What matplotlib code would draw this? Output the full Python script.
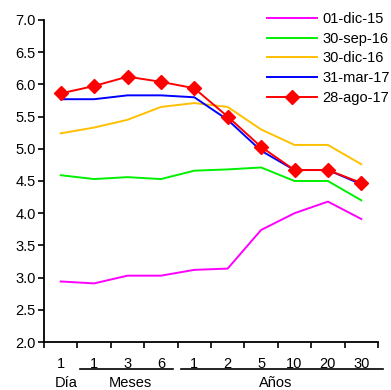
import numpy as np
import matplotlib
matplotlib.use('Agg')
import matplotlib.pyplot as plt

plt.rcParams['font.family'] = ['Liberation Sans', 'DejaVu Sans']
plt.rcParams['font.size'] = 10.5

# plazos (eje x)
plazos = ['1', '1', '3', '6', '1', '2', '5', '10', '20', '30']

# curvas de rendimiento
dic15 = [2.94, 2.91, 3.03, 3.03, 3.12, 3.14, 3.74, 4.00, 4.18, 3.91]
sep16 = [4.59, 4.53, 4.56, 4.53, 4.66, 4.68, 4.71, 4.50, 4.50, 4.20]
dic16 = [5.24, 5.33, 5.45, 5.65, 5.71, 5.65, 5.30, 5.06, 5.06, 4.76]
mar17 = [5.77, 5.77, 5.83, 5.83, 5.80, 5.45, 4.97, 4.67, 4.67, 4.45]
ago17 = [5.86, 5.975, 6.12, 6.04, 5.94, 5.50, 5.03, 4.67, 4.67, 4.47]

series = [
    ('01-dic-15', dic15, '#FF00FF'),
    ('30-sep-16', sep16, '#00F000'),
    ('30-dic-16', dic16, '#FFC000'),
    ('31-mar-17', mar17, '#0000FF'),
]

fig = plt.figure(figsize=(3.91, 3.90), dpi=100)
ax = fig.add_axes([44/391, 1-342/390, 334/391, 322/390])

x = np.arange(len(plazos))
for name, vals, col in series:
    ax.plot(x, vals, color=col, lw=1.4, label=name)
ax.plot(x, ago17, color='#FF0000', lw=1.4, marker='D', markersize=7,
        label='28-ago-17')

ax.set_ylim(2.0, 7.0)
ax.set_yticks(np.arange(2.0, 7.01, 0.5))
ax.set_yticklabels(['%.1f' % v for v in np.arange(2.0, 7.01, 0.5)])
ax.set_xlim(-0.5, 9.5)
ax.set_xticks(np.arange(-0.5, 9.6, 1.0))
ax.set_xticklabels([])
ax.tick_params(axis='both', direction='out', length=4, width=1.2, colors='black')
ax.tick_params(axis='y', pad=2)
for s in ['top', 'right']:
    ax.spines[s].set_visible(False)
for s in ['left', 'bottom']:
    ax.spines[s].set_linewidth(1.3)

# etiquetas de plazo
for i, lbl in enumerate(plazos):
    ax.annotate(lbl, xy=(i, 0), xycoords=('data', 'axes fraction'),
                xytext=(0, -15.5), textcoords='offset points',
                ha='center', va='center')

# lineas de grupo
trans = ax.get_xaxis_transform()
yl = -27/322
ax.plot([0.58, 3.36], [yl, yl], color='black', lw=1.2, transform=trans, clip_on=False)
ax.plot([3.6, 9.65], [yl, yl], color='black', lw=1.2, transform=trans, clip_on=False)

yg = -41/322
ax.text(0.15, yg, 'Día', transform=trans, ha='center', va='center')
ax.text(2.1, yg, 'Meses', transform=trans, ha='center', va='center')
ax.text(6.43, yg, 'Años', transform=trans, ha='center', va='center')

ax.legend(loc='upper right', bbox_to_anchor=(390/391, 1-12/390),
          bbox_transform=fig.transFigure, frameon=False, borderpad=0,
          borderaxespad=0, handlelength=3.4, handletextpad=0.4,
          labelspacing=0.39)

fig.savefig('out.png', dpi=100)
